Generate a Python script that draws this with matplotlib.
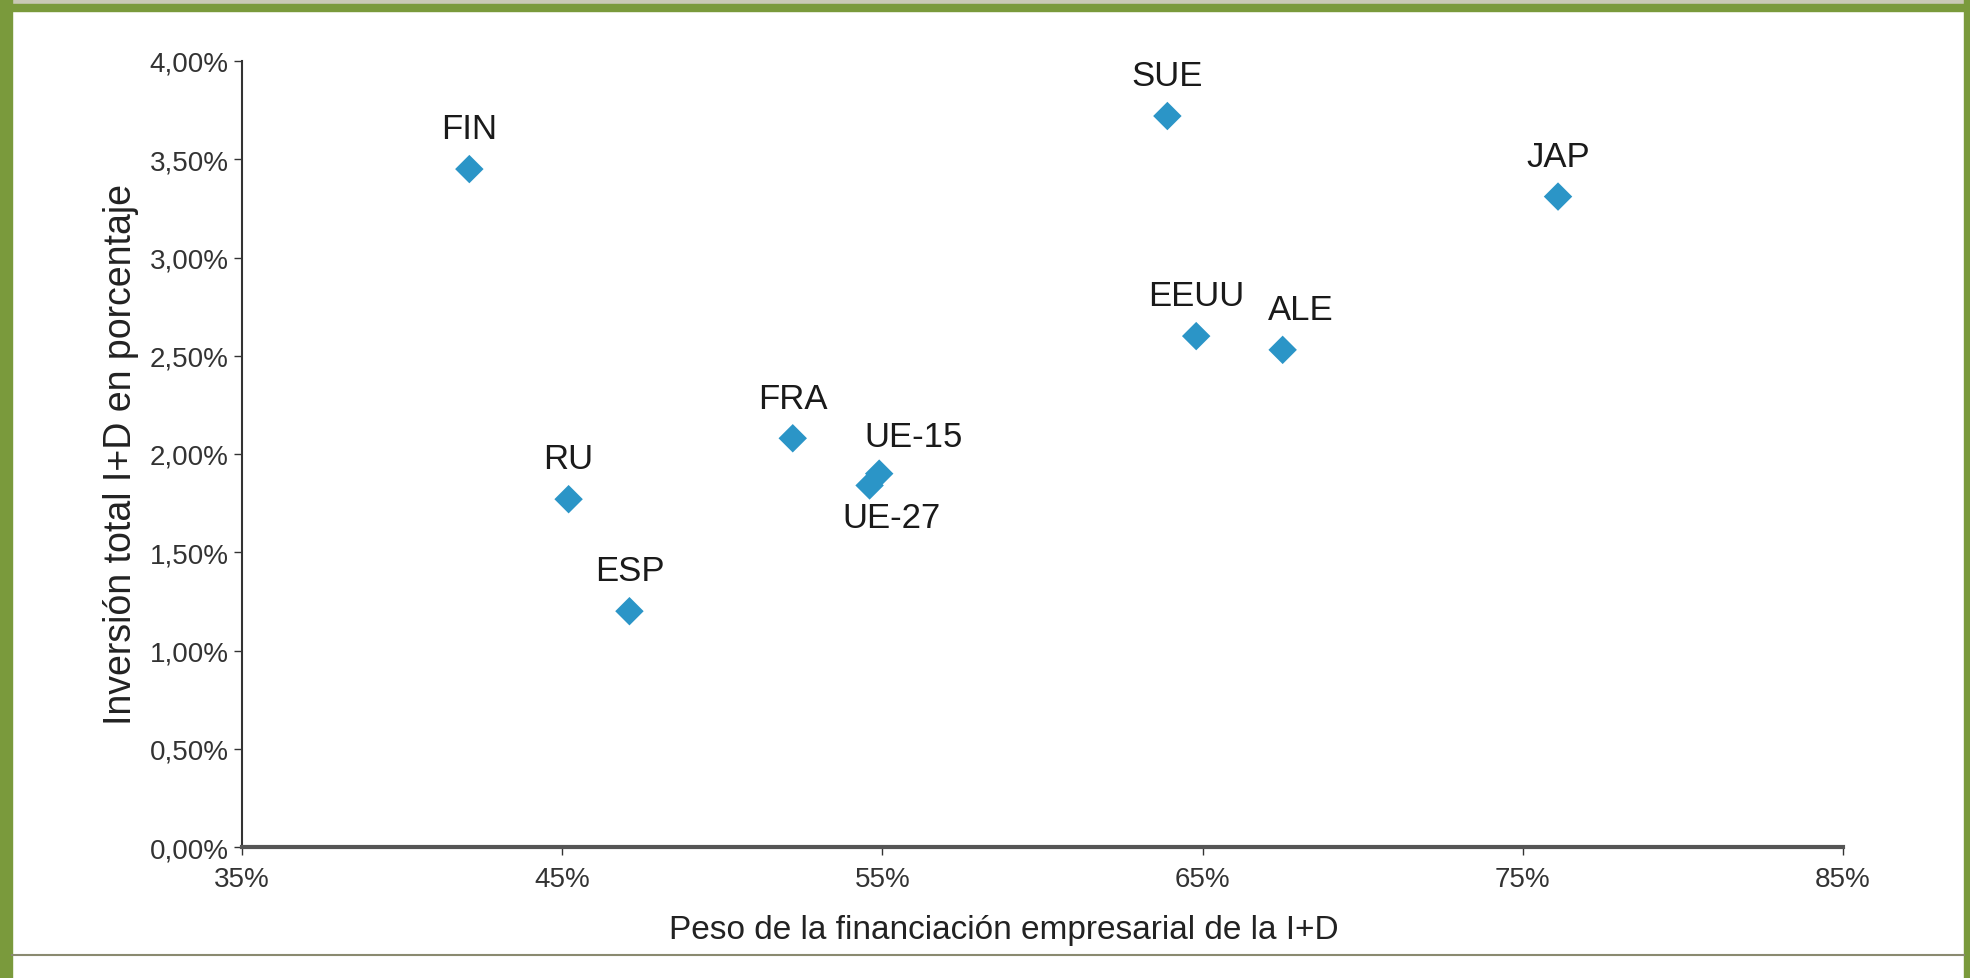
import matplotlib.pyplot as plt
from matplotlib.patches import Rectangle
from matplotlib.lines import Line2D
from matplotlib.ticker import FuncFormatter

plt.rcParams["font.family"] = ["Liberation Sans", "DejaVu Sans"]

# datos
countries = ["FIN", "SUE", "JAP", "EEUU", "ALE", "FRA", "UE-15", "UE-27", "RU", "ESP"]
financiacion = [42.1, 63.9, 76.1, 64.8, 67.5, 52.2, 54.9, 54.6, 45.2, 47.1]
inversion = [3.45, 3.72, 3.31, 2.60, 2.53, 2.08, 1.90, 1.84, 1.77, 1.20]
# desplazamiento de etiquetas (puntos)
label_dx = [0, 0, 0, 0, 13, 0, 25, 16, 0, 0]
label_dy = [29, 29, 29, 29, 29, 29, 27, -23, 29, 29]

fig = plt.figure(figsize=(19.7, 9.79), dpi=100)
fig.patch.set_facecolor("white")

# marco verde
green = "#7a9a3c"
fig.add_artist(Rectangle((0, 1 - 5 / 979), 1, 5 / 979, transform=fig.transFigure, color="#c9c9b5", zorder=0))
fig.add_artist(Rectangle((0, 0), 12 / 1970, 1, transform=fig.transFigure, color=green, zorder=0))
fig.add_artist(Rectangle((0, 1 - 12 / 979), 1, 7 / 979, transform=fig.transFigure, color=green, zorder=0))
fig.add_artist(Rectangle((1 - 6 / 1970, 0), 6 / 1970, 1, transform=fig.transFigure, color=green, zorder=0))
fig.add_artist(Line2D([12 / 1970, 1 - 6 / 1970], [1 - 956 / 979] * 2, transform=fig.transFigure,
                      color="#8a8a70", lw=1.5))

ax = fig.add_axes([242 / 1970, 1 - 848 / 979, (1843 - 242) / 1970, (848 - 62) / 979])
ax.scatter(financiacion, inversion, marker="D", s=210, color="#2b95c7", edgecolors="none", zorder=3)
for name, x, y, dx, dy in zip(countries, financiacion, inversion, label_dx, label_dy):
    ax.annotate(name, (x, y), xytext=(dx, dy), textcoords="offset points",
                ha="center", va="center", fontsize=25, color="#1a1a1a")

ax.set_xlim(35, 85)
ax.set_ylim(0, 4)
ax.set_xticks([35, 45, 55, 65, 75, 85])
ax.set_yticks([0, 0.5, 1, 1.5, 2, 2.5, 3, 3.5, 4])
ax.xaxis.set_major_formatter(FuncFormatter(lambda v, p: f"{v:.0f}%"))
ax.yaxis.set_major_formatter(FuncFormatter(lambda v, p: f"{v:.2f}%".replace(".", ",")))
ax.tick_params(labelsize=20, colors="#333333", length=6, width=1)
ax.tick_params(axis="x", pad=8)

for side in ["top", "right"]:
    ax.spines[side].set_visible(False)
ax.spines["left"].set_color("#333333")
ax.spines["left"].set_linewidth(1.5)
ax.spines["bottom"].set_color("#555555")
ax.spines["bottom"].set_linewidth(3)

ax.set_xlabel("Peso de la financiación empresarial de la I+D", fontsize=24, color="#222222", labelpad=14)
ax.xaxis.set_label_coords(0.476, -0.085)
ax.set_ylabel("Inversión total I+D en porcentaje", fontsize=27, color="#222222", labelpad=8)

fig.savefig("out.png", dpi=100, facecolor=fig.get_facecolor())
